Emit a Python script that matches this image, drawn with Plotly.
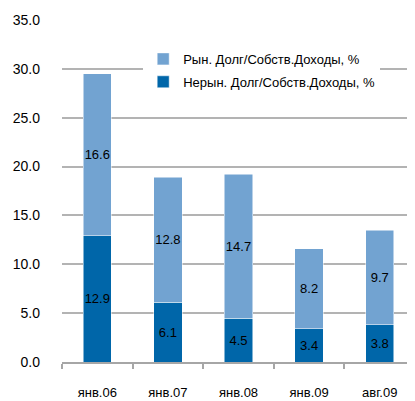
import plotly.graph_objects as go

categories = ["янв.06", "янв.07", "янв.08", "янв.09", "авг.09"]
nonmarket = [12.9, 6.1, 4.5, 3.4, 3.8]
market = [16.6, 12.8, 14.7, 8.2, 9.7]
name_nonmarket = "Нерын. Долг/Собств.Доходы, %"
name_market = "Рын. Долг/Собств.Доходы, %"
yticks = [0, 5, 10, 15, 20, 25, 30, 35]

FONT = "Liberation Sans Narrow, Arial Narrow, Liberation Sans, Arial, sans-serif"

fig = go.Figure()
fig.add_trace(go.Bar(
    x=categories, y=nonmarket, name=name_nonmarket, legendgroup="b", legendrank=2,
    marker=dict(color="#0066a9", line=dict(color="white", width=0.5)),
    text=[f"{v:.1f}" for v in nonmarket], textposition="inside", textangle=0,
    insidetextanchor="middle", textfont=dict(color="black", size=13, family=FONT),
))
fig.add_trace(go.Bar(
    x=categories, y=market, name=name_market, legendgroup="a", legendrank=1,
    marker=dict(color="#72a3d1", line=dict(color="white", width=0.5)),
    text=[f"{v:.1f}" for v in market], textposition="inside", textangle=0,
    insidetextanchor="middle", textfont=dict(color="black", size=13, family=FONT),
))

# page body has an 8px margin: shrink the figure so it fits the 415x401 window
fig.update_layout(
    barmode="stack",
    bargap=0.6,
    width=407, height=393,
    margin=dict(l=54, r=0, t=12, b=39),
    paper_bgcolor="white", plot_bgcolor="white",
    font=dict(family=FONT, size=13, color="black"),
    uniformtext=dict(mode="show", minsize=13),
    legend=dict(
        x=0.23, y=0.93, xanchor="left", yanchor="top",
        traceorder="grouped", bgcolor="white",
        font=dict(size=13, family=FONT),
        itemwidth=30, tracegroupgap=3,
    ),
    showlegend=True,
)
fig.update_yaxes(
    range=[0, 35], tickvals=yticks, ticktext=[f"{v:.1f}" for v in yticks],
    showgrid=True, gridcolor="#b3b3b3", gridwidth=1.5,
    zeroline=False, showline=False, ticks="", ticklabelstandoff=21,
    automargin=False, tickfont=dict(size=14),
)
fig.update_xaxes(
    showline=True, linecolor="#a6a6a6", linewidth=2,
    ticks="outside", tickson="boundaries", ticklen=5, tickcolor="#a6a6a6", tickwidth=1.5,
    ticklabelstandoff=17, showgrid=False, automargin=False,
)

fig.write_html("out.html")
